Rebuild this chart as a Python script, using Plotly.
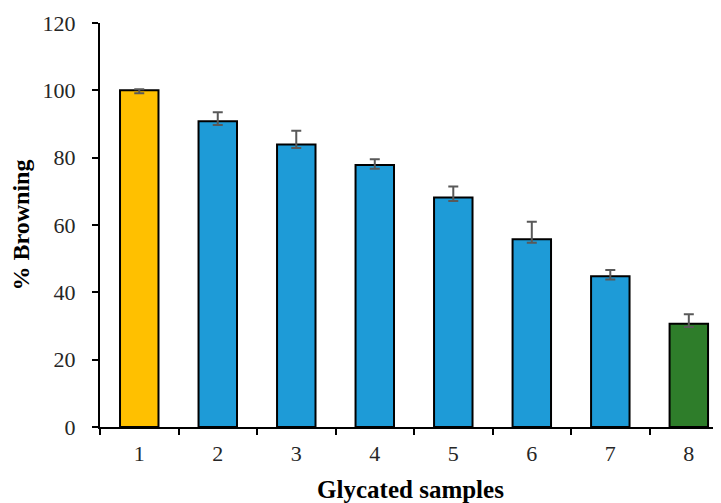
import plotly.graph_objects as go

categories = ["1", "2", "3", "4", "5", "6", "7", "8"]
values = [100.0, 90.8, 83.9, 77.8, 68.2, 55.8, 44.8, 30.7]
err_plus = [0.3, 2.7, 4.1, 1.7, 3.2, 5.2, 1.8, 2.8]
err_minus = [0.9, 1.1, 1.0, 1.1, 1.1, 1.1, 1.0, 1.0]
colors = ["#FFC000", "#1E9BD7", "#1E9BD7", "#1E9BD7", "#1E9BD7", "#1E9BD7", "#1E9BD7", "#2E7D2A"]
y_ticks = [0, 20, 40, 60, 80, 100, 120]

font_family = "Liberation Serif, Times New Roman, serif"

fig = go.Figure(
    go.Bar(
        x=categories,
        y=values,
        width=0.49,
        marker=dict(color=colors, line=dict(color="black", width=2)),
        error_y=dict(
            type="data",
            symmetric=False,
            array=err_plus,
            arrayminus=err_minus,
            color="#595959",
            thickness=2,
            width=5,
        ),
    )
)

fig.update_layout(
    width=713,
    height=495,
    margin=dict(l=92, r=0, t=15, b=76, autoexpand=False),
    plot_bgcolor="white",
    paper_bgcolor="white",
    showlegend=False,
    font=dict(family=font_family, size=22, color="#262626"),
    xaxis=dict(
        type="category",
        range=[-0.5, 7.41],
        showline=True,
        linecolor="black",
        linewidth=2,
        ticks="outside",
        tickson="boundaries",
        ticklen=6,
        tickwidth=2,
        tickcolor="black",
        showgrid=False,
        automargin=False,
        ticklabelstandoff=6,
        tickfont=dict(size=22, family=font_family, color="#262626"),
        title=dict(
            text="<b>Glycated samples</b>",
            font=dict(size=25, family=font_family, color="black"),
            standoff=20,
        ),
    ),
    yaxis=dict(
        range=[0, 120],
        tickvals=y_ticks,
        showline=True,
        linecolor="black",
        linewidth=2,
        ticks="outside",
        ticklen=6,
        tickwidth=2,
        tickcolor="black",
        showgrid=False,
        zeroline=False,
        automargin=False,
        ticklabelstandoff=12,
        tickfont=dict(size=22, family=font_family, color="#262626"),
        title=dict(
            text="<b>% Browning</b>",
            font=dict(size=24, family=font_family, color="black"),
            standoff=11,
        ),
    ),
)

fig.write_html("out.html")
